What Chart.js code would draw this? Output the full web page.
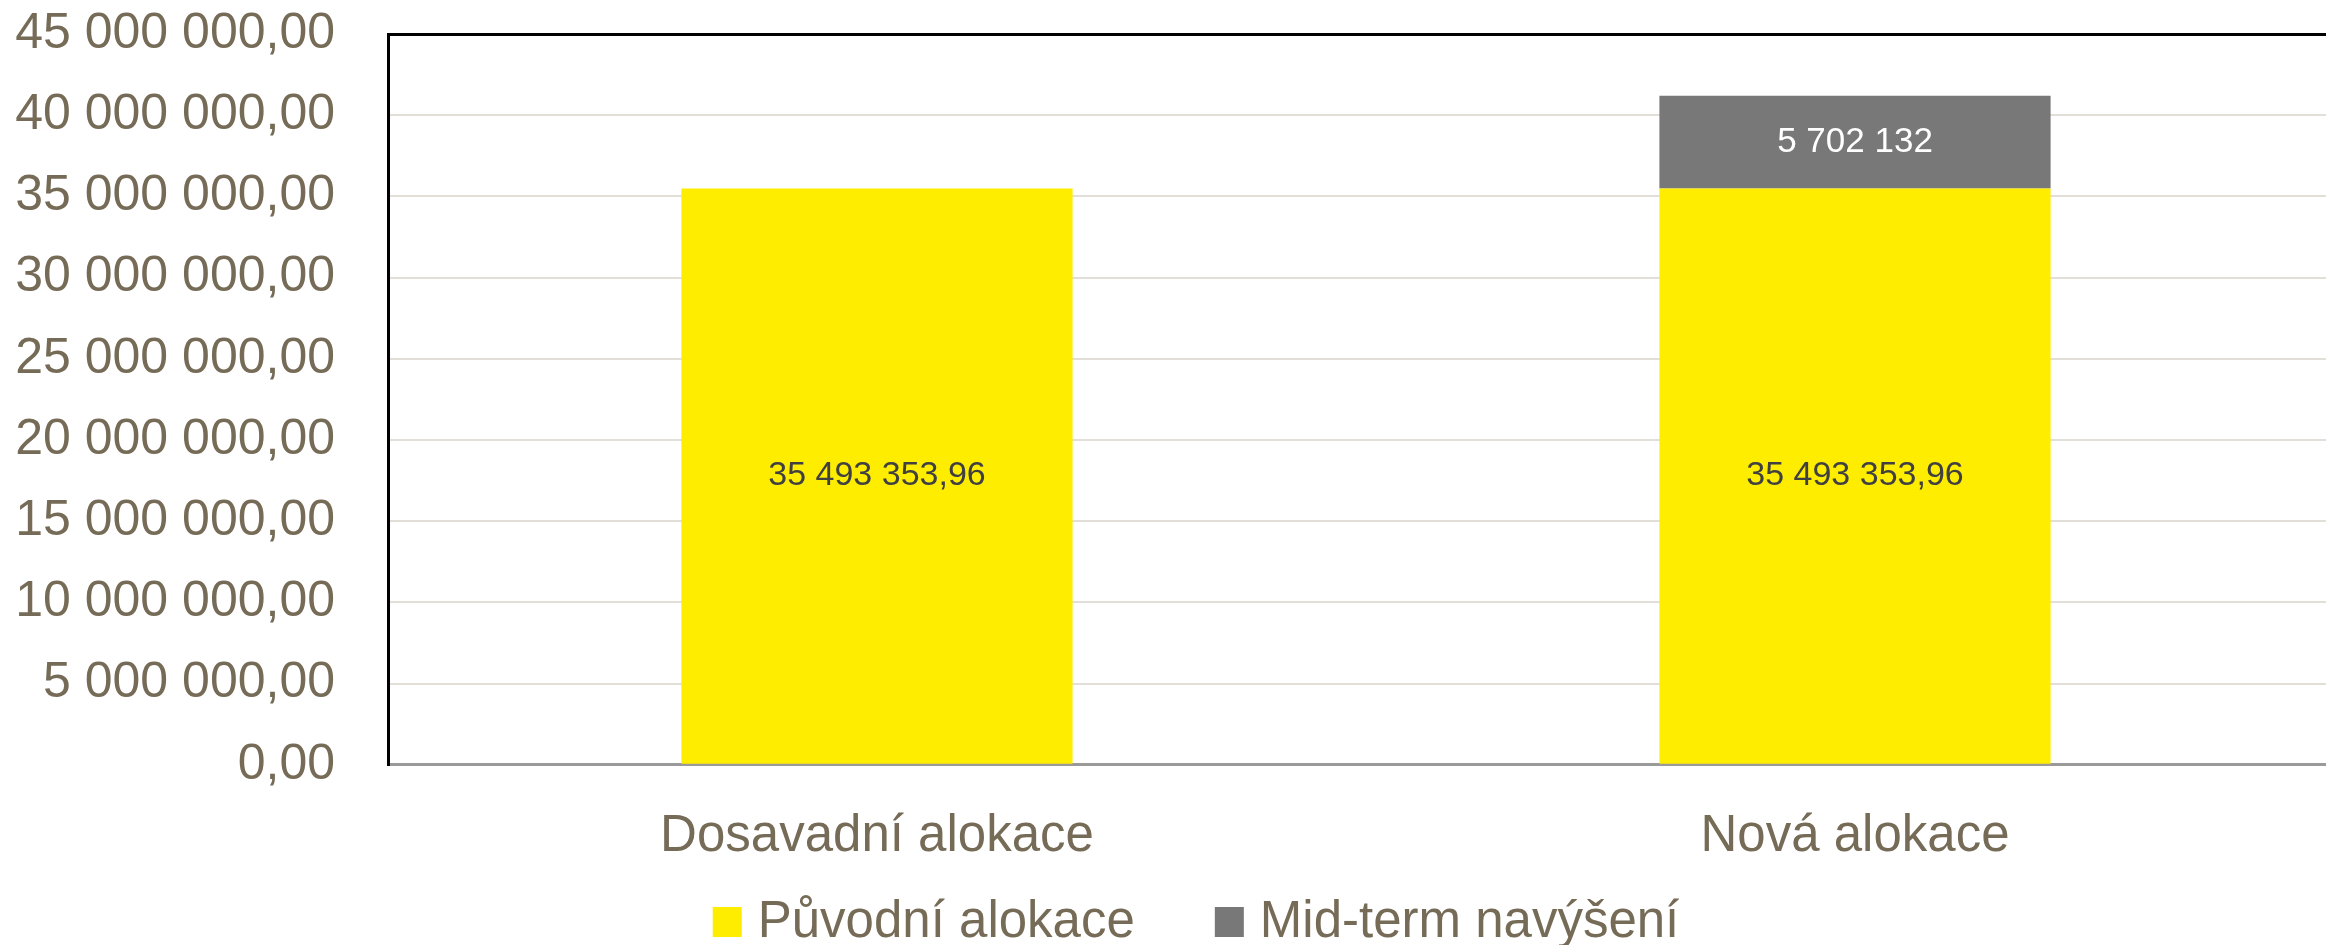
<!DOCTYPE html>
<html>
<head>
<meta charset="utf-8">
<script src="https://cdn.jsdelivr.net/npm/chart.js@4/dist/chart.umd.min.js"></script>
<style>
html,body{margin:0;padding:0;background:#fff;overflow:hidden;width:2326px;height:945px;}
#wrap{position:absolute;left:0;top:0;width:2344px;height:945px;}
</style>
</head>
<body>
<div id="wrap"><canvas id="c" width="2344" height="945"></canvas></div>
<script>
// ---- data ----
const categories = ["Dosavadní alokace", "Nová alokace"];
const seriesNames = ["Původní alokace", "Mid-term navýšení"];
const puvodni = [35493353.96, 35493353.96];
const midterm = [null, 5702132];
const labelDecimals = [2, 0];
const yMin = 0, yMax = 45000000, yStep = 5000000;

const seriesColors = ["#FFED00", "#787878"];
const labelColors = ["#404040", "#FFFFFF"];
const textColor = "#756B57";
const FONT = "'Liberation Sans', Arial, sans-serif";

function fmt(v, dec) {
  const neg = v < 0; v = Math.abs(v);
  let s = v.toFixed(dec);
  let [ip, dp] = s.split(".");
  ip = ip.replace(/\B(?=(\d{3})+(?!\d))/g, " ");
  return (neg ? "-" : "") + ip + (dp ? "," + dp : "");
}

const dataLabelPlugin = {
  id: "dataLabels",
  afterDatasetsDraw(chart) {
    const ctx = chart.ctx;
    chart.data.datasets.forEach((ds, di) => {
      const meta = chart.getDatasetMeta(di);
      meta.data.forEach((el, i) => {
        const v = ds.data[i];
        if (v === null || v === undefined) return;
        ctx.save();
        ctx.fillStyle = labelColors[di];
        ctx.font = (di === 0 ? 34 : 35) + "px " + FONT;
        ctx.textAlign = "center";
        ctx.textBaseline = "middle";
        ctx.fillText(fmt(v, labelDecimals[di]), el.x, (el.y + el.base) / 2);
        ctx.restore();
      });
    });
  }
};

const customLegend = {
  id: "customLegend",
  afterDraw(chart) {
    const ctx = chart.ctx;
    const fontSize = 51;
    const box = 29, gap = 16, itemGap = 80;
    ctx.save();
    ctx.font = fontSize + "px " + FONT;
    const items = chart.data.datasets.map(ds => ({
      text: ds.label, color: ds.backgroundColor, w: ctx.measureText(ds.label).width
    }));
    let total = 0;
    items.forEach((it, i) => { total += box + gap + it.w + (i < items.length - 1 ? itemGap : 0); });
    const cx = 1196;
    let x = cx - total / 2;
    const baseY = 937;
    items.forEach(it => {
      ctx.fillStyle = it.color;
      ctx.fillRect(x, baseY - 30, box, 30);
      x += box + gap;
      ctx.fillStyle = textColor;
      ctx.textAlign = "left";
      ctx.textBaseline = "alphabetic";
      ctx.fillText(it.text, x, baseY);
      x += it.w + itemGap;
    });
    ctx.restore();
  }
};

new Chart(document.getElementById("c"), {
  type: "bar",
  data: {
    labels: categories,
    datasets: [
      { label: seriesNames[0], data: puvodni, backgroundColor: seriesColors[0], borderWidth: 0 },
      { label: seriesNames[1], data: midterm, backgroundColor: seriesColors[1], borderWidth: 0 }
    ]
  },
  options: {
    responsive: false,
    animation: false,
    devicePixelRatio: 1,
    barPercentage: 0.8,
    categoryPercentage: 0.5,
    layout: { padding: { left: 0, right: 0, top: 34, bottom: 35 } },
    plugins: {
      legend: { display: false },
      tooltip: { enabled: false }
    },
    scales: {
      x: {
        stacked: true,
        grid: { display: false, drawTicks: false },
        border: { display: true, color: "#9A9A9A", width: 3 },
        ticks: {
          color: textColor,
          font: { family: FONT, size: 51 },
          padding: 42,
          maxRotation: 0
        }
      },
      y: {
        stacked: true,
        min: yMin, max: yMax,
        afterFit(scale) { scale.width = 388; scale.paddingTop = 0; scale.paddingBottom = 0; },
        grid: {
          drawTicks: false,
          color: c => c.tick && c.tick.value === yMax ? "#000000" : (c.tick && c.tick.value === yMin ? "rgba(0,0,0,0)" : "#E2DED8"),
          lineWidth: c => c.tick && c.tick.value === yMax ? 3 : 2
        },
        border: { display: true, color: "#000000", width: 3 },
        ticks: {
          stepSize: yStep,
          color: textColor,
          font: { family: FONT, size: 50 },
          padding: 53,
          callback: v => fmt(v, 2)
        }
      }
    }
  },
  plugins: [dataLabelPlugin, customLegend]
});
</script>
</body>
</html>
